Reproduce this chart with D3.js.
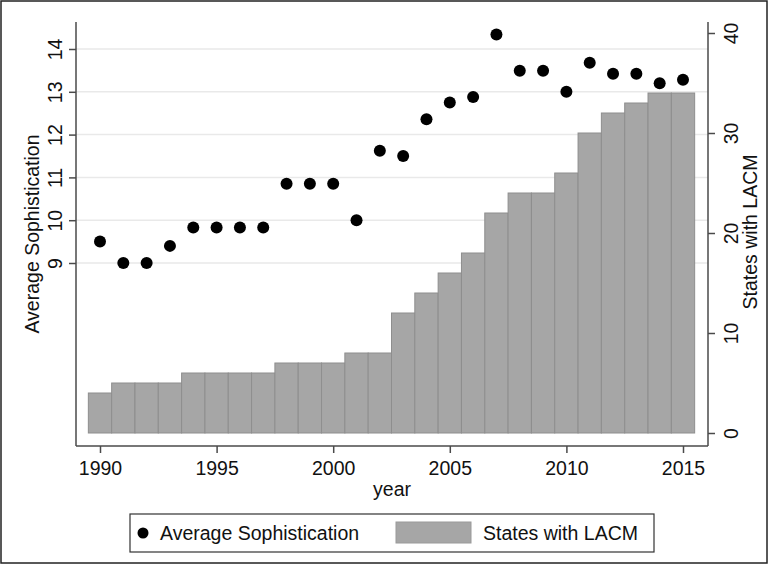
<!DOCTYPE html>
<html>
<head>
<meta charset="utf-8">
<script src="https://cdn.jsdelivr.net/npm/d3@7"></script>
<style>
  html, body { margin: 0; padding: 0; background: #fff; }
  svg { display: block; font-family: "Liberation Sans", Arial, sans-serif; }
</style>
</head>
<body>
<svg id="chart" width="768" height="564"></svg>
<script>
const years = [1990,1991,1992,1993,1994,1995,1996,1997,1998,1999,2000,2001,2002,2003,2004,2005,2006,2007,2008,2009,2010,2011,2012,2013,2014,2015];
const sophistication = [9.5,9.0,9.0,9.4,9.83,9.83,9.83,9.83,10.85,10.85,10.85,10.0,11.62,11.5,12.36,12.75,12.88,14.34,13.49,13.49,13.0,13.68,13.42,13.42,13.2,13.28];
const statesLACM = [4,5,5,5,6,6,6,6,7,7,7,8,8,12,14,16,18,22,24,24,26,30,32,33,34,34];
const xTicks = [1990,1995,2000,2005,2010,2015];
const leftTicks = [9,10,11,12,13,14];
const rightTicks = [0,10,20,30,40];

const svg = d3.select("#chart");
const plotL = 76, plotR = 708, plotT = 22, plotB = 446;
const axisColor = "#4a4a4a";
const fontSize = 19.5;
const ff = "Liberation Sans, Arial, sans-serif";

const x = d3.scaleLinear().domain([1990, 2015]).range([100, 683]);
const yL = d3.scaleLinear().domain([9, 14]).range([263, 49]);
const yR = d3.scaleLinear().domain([0, 40]).range([433, 33]);
const bw = x(1991) - x(1990);

// outer frame
svg.append("rect").attr("x", 1).attr("y", 1).attr("width", 766).attr("height", 562)
  .attr("fill", "none").attr("stroke", "#222").attr("stroke-width", 1.5);

// gridlines (left axis)
svg.append("g").selectAll("line").data(leftTicks).join("line")
  .attr("x1", plotL).attr("x2", plotR)
  .attr("y1", d => yL(d)).attr("y2", d => yL(d))
  .attr("stroke", "#e9e9e9").attr("stroke-width", 1.5);

// bars
svg.append("g").selectAll("rect").data(years).join("rect")
  .attr("x", (d) => x(d) - bw / 2)
  .attr("width", bw)
  .attr("y", (d, i) => yR(statesLACM[i]))
  .attr("height", (d, i) => yR(0) - yR(statesLACM[i]))
  .attr("fill", "#a6a6a6").attr("stroke", "#8e8e8e").attr("stroke-width", 1);

// dots
svg.append("g").selectAll("circle").data(years).join("circle")
  .attr("cx", d => x(d))
  .attr("cy", (d, i) => yL(sophistication[i]))
  .attr("r", 6).attr("fill", "#000");

// axis lines
const ax = svg.append("g").attr("stroke", axisColor).attr("stroke-width", 1.5).attr("fill", "none");
ax.append("line").attr("x1", plotL).attr("x2", plotL).attr("y1", plotT).attr("y2", plotB);
ax.append("line").attr("x1", plotR).attr("x2", plotR).attr("y1", plotT).attr("y2", plotB);
ax.append("line").attr("x1", plotL).attr("x2", plotR).attr("y1", plotB).attr("y2", plotB);

// x axis
const gx = svg.append("g").attr("transform", `translate(0,${plotB})`)
  .call(d3.axisBottom(x).tickValues(xTicks).tickFormat(d3.format("d")).tickSize(7).tickPadding(6));
gx.select(".domain").remove();
gx.selectAll(".tick line").attr("stroke", axisColor).attr("stroke-width", 1.5);
gx.selectAll(".tick text").attr("font-size", fontSize).attr("fill", "#111")
  .attr("font-family", ff).attr("dy", null).attr("y", 29);

// left axis
const gl = svg.append("g").attr("transform", `translate(${plotL},0)`)
  .call(d3.axisLeft(yL).tickValues(leftTicks).tickSize(7).tickFormat(d3.format("d")));
gl.select(".domain").remove();
gl.selectAll(".tick line").attr("stroke", axisColor).attr("stroke-width", 1.5);
gl.selectAll(".tick text").attr("font-size", fontSize).attr("fill", "#111")
  .attr("font-family", ff)
  .attr("x", null).attr("dy", null)
  .attr("text-anchor", "middle")
  .attr("transform", "translate(-14,0) rotate(-90)");

// right axis
const gr = svg.append("g").attr("transform", `translate(${plotR},0)`)
  .call(d3.axisRight(yR).tickValues(rightTicks).tickSize(7).tickFormat(d3.format("d")));
gr.select(".domain").remove();
gr.selectAll(".tick line").attr("stroke", axisColor).attr("stroke-width", 1.5);
gr.selectAll(".tick text").attr("font-size", fontSize).attr("fill", "#111")
  .attr("font-family", ff)
  .attr("x", null).attr("dy", null)
  .attr("text-anchor", "middle")
  .attr("transform", "translate(30,0) rotate(-90)");

// axis titles
svg.append("text").attr("transform", "translate(39,234) rotate(-90)")
  .attr("text-anchor", "middle").attr("font-size", fontSize).attr("fill", "#111")
  .text("Average Sophistication");
svg.append("text").attr("transform", "translate(757,232) rotate(-90)")
  .attr("text-anchor", "middle").attr("font-size", fontSize).attr("fill", "#111")
  .text("States with LACM");
svg.append("text").attr("x", 392).attr("y", 496)
  .attr("text-anchor", "middle").attr("font-size", fontSize).attr("fill", "#111")
  .text("year");

// legend
const lg = svg.append("g");
lg.append("rect").attr("x", 130).attr("y", 514).attr("width", 524).attr("height", 38)
  .attr("fill", "#fff").attr("stroke", "#333").attr("stroke-width", 1.2);
lg.append("circle").attr("cx", 143).attr("cy", 533).attr("r", 5.5).attr("fill", "#000");
lg.append("text").attr("x", 160).attr("y", 540).attr("font-size", fontSize).attr("fill", "#111")
  .text("Average Sophistication");
lg.append("rect").attr("x", 396).attr("y", 522).attr("width", 75).attr("height", 21)
  .attr("fill", "#a6a6a6").attr("stroke", "#9a9a9a");
lg.append("text").attr("x", 483).attr("y", 540).attr("font-size", fontSize).attr("fill", "#111")
  .text("States with LACM");
</script>
</body>
</html>
